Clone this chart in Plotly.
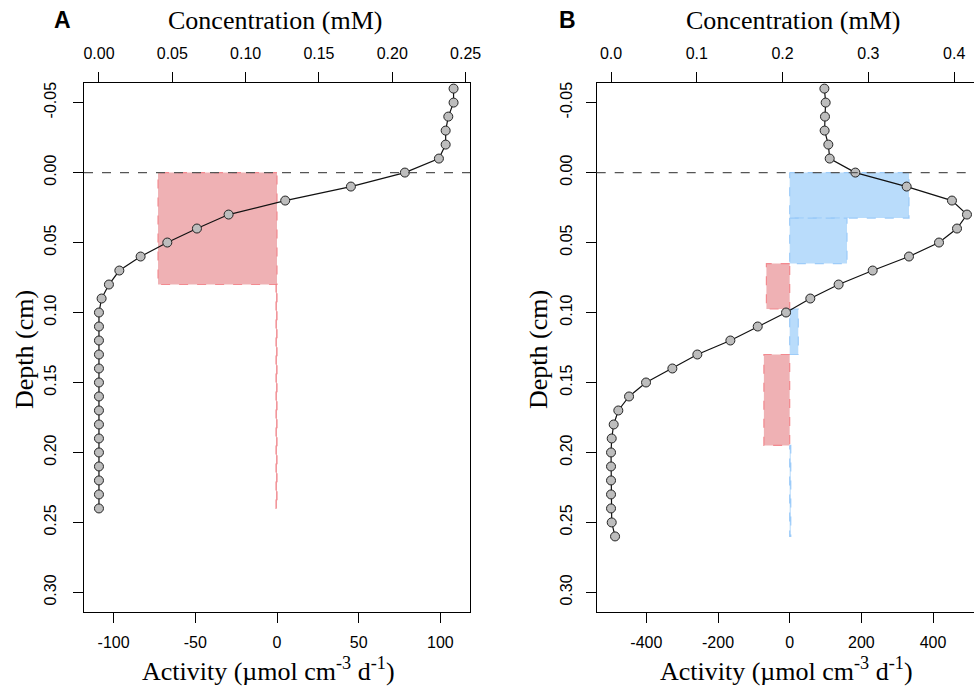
import plotly.graph_objects as go

# ---------------- data ----------------
# Panel A
depth_a = [-0.06, -0.05, -0.04, -0.03, -0.02, -0.01, 0.00, 0.01, 0.02, 0.03, 0.04,
           0.05, 0.06, 0.07, 0.08, 0.09, 0.10, 0.11, 0.12, 0.13, 0.14, 0.15, 0.16,
           0.17, 0.18, 0.19, 0.20, 0.21, 0.22, 0.23, 0.24]
conc_a = [0.2418, 0.2418, 0.2382, 0.2364, 0.2364, 0.2318, 0.2086, 0.1718, 0.1270,
          0.0884, 0.0668, 0.0466, 0.0284, 0.0139, 0.0068, 0.0018, 0.0000, 0.0000,
          0.0000, 0.0000, 0.0000, 0.0000, 0.0000, 0.0000, 0.0000, 0.0000, 0.0000,
          0.0000, 0.0000, 0.0000, 0.0000]
layer_top_a = [0.00, 0.08]
layer_bot_a = [0.08, 0.24]
activity_a = [-72.8, -0.6]

# Panel B
depth_b = [-0.06, -0.05, -0.04, -0.03, -0.02, -0.01, 0.00, 0.01, 0.02, 0.03, 0.04,
           0.05, 0.06, 0.07, 0.08, 0.09, 0.10, 0.11, 0.12, 0.13, 0.14, 0.15, 0.16,
           0.17, 0.18, 0.19, 0.20, 0.21, 0.22, 0.23, 0.24, 0.25, 0.26]
conc_b = [0.2487, 0.2502, 0.2494, 0.2490, 0.2533, 0.2549, 0.2848, 0.3446, 0.3974,
          0.4149, 0.4033, 0.3823, 0.3473, 0.3050, 0.2653, 0.2323, 0.2040, 0.1710,
          0.1391, 0.1006, 0.0715, 0.0408, 0.0210, 0.0085, 0.0031, 0.0008, 0.0000,
          0.0000, 0.0000, 0.0000, 0.0000, 0.0008, 0.0047]
layer_top_b = [0.0, 0.0325, 0.065, 0.0975, 0.13, 0.195]
layer_bot_b = [0.0325, 0.065, 0.0975, 0.13, 0.195, 0.26]
activity_b = [333, 160, -65, 24, -72, 3]

# ticks
depth_ticks = [-0.05, 0.00, 0.05, 0.10, 0.15, 0.20, 0.25, 0.30]
depth_ticktext = ["-0.05", "0.00", "0.05", "0.10", "0.15", "0.20", "0.25", "0.30"]
act_ticks_a = [-100, -50, 0, 50, 100]
act_ticktext_a = ["-100", "-50", "0", "50", "100"]
conc_ticks_a = [0.00, 0.05, 0.10, 0.15, 0.20, 0.25]
conc_ticktext_a = ["0.00", "0.05", "0.10", "0.15", "0.20", "0.25"]
act_ticks_b = [-400, -200, 0, 200, 400]
act_ticktext_b = ["-400", "-200", "0", "200", "400"]
conc_ticks_b = [0.0, 0.1, 0.2, 0.3, 0.4]
conc_ticktext_b = ["0.0", "0.1", "0.2", "0.3", "0.4"]

# ---------------- style ----------------
W, H = 974, 687
RED_FILL = "rgba(236,160,163,0.82)"
RED_LINE = "rgba(242,130,135,0.9)"
BLUE_FILL = "rgba(170,212,250,0.82)"
BLUE_LINE = "rgba(150,200,248,0.9)"
TICKFONT = dict(family="Liberation Sans, Arial, sans-serif", size=16, color="black")
SERIF = "Liberation Serif, Times New Roman, serif"


def px_x(p):
    return p / W


def px_y(p):
    return 1 - p / H


fig = go.Figure()


def add_layers(tops, bots, vals, xa, ya):
    for t, b, v in zip(tops, bots, vals):
        pos = v >= 0
        fig.add_trace(go.Scatter(
            x=[0, v, v, 0, 0], y=[t, t, b, b, t],
            xaxis=xa, yaxis=ya, mode="lines", fill="toself",
            fillcolor=BLUE_FILL if pos else RED_FILL,
            line=dict(color=BLUE_LINE if pos else RED_LINE, width=1.2, dash="dash"),
            hoverinfo="skip", showlegend=False))


add_layers(layer_top_a, layer_bot_a, activity_a, "x", "y")
add_layers(layer_top_b, layer_bot_b, activity_b, "x3", "y2")

marker = dict(size=9, color="#bdbdbd", line=dict(color="#222222", width=1))
fig.add_trace(go.Scatter(x=conc_a, y=depth_a, xaxis="x2", yaxis="y",
                         mode="lines+markers", line=dict(color="#111111", width=1.2),
                         marker=marker, showlegend=False))
fig.add_trace(go.Scatter(x=conc_b, y=depth_b, xaxis="x4", yaxis="y2",
                         mode="lines+markers", line=dict(color="#111111", width=1.2),
                         marker=marker, showlegend=False))

dom_y = [px_y(612), px_y(83)]
dom_a = [px_x(84), px_x(470)]
dom_b = [px_x(596.7), 1.0]

axis_common = dict(showgrid=False, zeroline=False, showline=True, linecolor="black",
                   linewidth=1.3, ticks="outside", ticklen=10, tickwidth=1.2,
                   tickcolor="black", tickfont=TICKFONT, tickmode="array",
                   automargin=False)

fig.update_layout(
    width=W, height=H, margin=dict(l=0, r=0, t=0, b=0, pad=0), autosize=False,
    paper_bgcolor="white", plot_bgcolor="white", showlegend=False,
    xaxis=dict(axis_common, domain=dom_a, anchor="y", range=[-118.1, 118.1],
               tickvals=act_ticks_a, ticktext=act_ticktext_a, side="bottom",
               ticklabelstandoff=6),
    xaxis2=dict(axis_common, overlaying="x", anchor="y", side="top",
                range=[-0.0102, 0.253], tickvals=conc_ticks_a,
                ticktext=conc_ticktext_a, ticklabelstandoff=6),
    yaxis=dict(axis_common, domain=dom_y, anchor="x", range=[0.314, -0.064],
               tickvals=depth_ticks, ticktext=depth_ticktext, mirror=True,
               tickangle=-90, ticklabelstandoff=10),
    xaxis3=dict(axis_common, domain=dom_b, anchor="y2", range=[-538.6, 514.4],
                tickvals=act_ticks_b, ticktext=act_ticktext_b, side="bottom",
                ticklabelstandoff=6),
    xaxis4=dict(axis_common, overlaying="x3", anchor="y2", side="top",
                range=[-0.0167, 0.4231], tickvals=conc_ticks_b,
                ticktext=conc_ticktext_b, ticklabelstandoff=6),
    yaxis2=dict(axis_common, domain=dom_y, anchor="x3", range=[0.314, -0.064],
                tickvals=depth_ticks, ticktext=depth_ticktext, mirror=False,
                tickangle=-90, ticklabelstandoff=7),
)

# dashed sediment surface line
for xr, yr in [("x domain", "y"), ("x3 domain", "y2")]:
    fig.add_shape(type="line", xref=xr, yref=yr, x0=0, x1=1, y0=0, y1=0,
                  line=dict(color="#555555", width=1.3, dash="dash"), layer="above")

ann = []
title_font = dict(family=SERIF, size=26, color="black")
act_title = "Activity (µmol cm<sup>-3</sup> d<sup>-1</sup>)"
for cx, lbl, lx in [(275, "A", 62), (793, "B", 567)]:
    ann.append(dict(x=px_x(cx), y=px_y(21), text="Concentration (mM)", font=title_font))
    ann.append(dict(x=px_x(cx - 7), y=px_y(669), text=act_title, font=title_font))
    ann.append(dict(x=px_x(lx), y=px_y(20), text="<b>%s</b>" % lbl,
                    font=dict(family="Liberation Sans, Arial, sans-serif", size=23,
                              color="black")))
ann.append(dict(x=px_x(24), y=px_y(350), text="Depth (cm)", font=title_font, textangle=-90))
ann.append(dict(x=px_x(538), y=px_y(350), text="Depth (cm)", font=title_font, textangle=-90))
for a in ann:
    a.update(xref="paper", yref="paper", showarrow=False, xanchor="center",
             yanchor="middle")
fig.update_layout(annotations=ann)

post = (
    "document.body.style.margin='0px';"
    "document.body.style.overflow='hidden';"
)
fig.write_html("out.html", config={"displayModeBar": False}, post_script=post)
